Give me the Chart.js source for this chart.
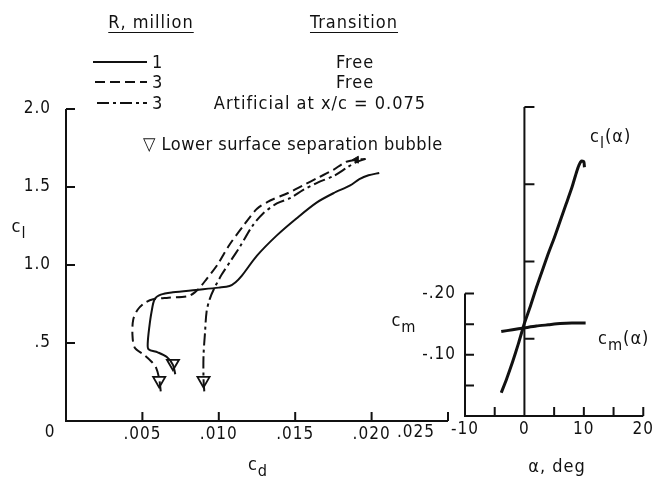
<!DOCTYPE html>
<html>
<head>
<meta charset="utf-8">
<script src="https://cdn.jsdelivr.net/npm/chart.js@4.4.1/dist/chart.umd.min.js"></script>
<style>
  body { margin: 0; background: #fff; }
  #wrap { position: relative; width: 657px; height: 478px; overflow: hidden;
          font-family: 'Liberation Sans Narrow', 'DejaVu Sans Condensed', 'Liberation Sans', sans-serif;
          font-size: 18px; letter-spacing: 1px; color: #111; }
  canvas { position: absolute; left: 0; top: 0; }
  .t { position: absolute; white-space: nowrap; line-height: 1; transform: translate(-50%, -50%); }
  .l { transform: translate(0, -50%); }
  .u { text-decoration: underline; text-underline-offset: 4px; text-decoration-thickness: 1px; }
  .s { font-size: 0.9em; position: relative; top: 0.35em; }
</style>
</head>
<body>
<div id="wrap">
  <canvas id="dragPolar" width="657" height="478"></canvas>
  <canvas id="liftCurve" width="657" height="478"></canvas>

  <svg width="657" height="478" style="position:absolute;left:0;top:0">
    <g stroke="#111" stroke-width="2">
      <line x1="93" y1="62" x2="147" y2="62"/>
      <line x1="95" y1="82" x2="147" y2="82" stroke-dasharray="10 5"/>
      <line x1="97" y1="103" x2="147" y2="103" stroke-dasharray="12 4 3 4"/>
    </g>
  </svg>

  <!-- 凡例 -->
  <div class="t u" style="left:151px;top:22px">R, million</div>
  <div class="t u" style="left:354px;top:22px">Transition</div>
  <div class="t l" style="left:152px;top:62px">1</div>
  <div class="t l" style="left:152px;top:82px">3</div>
  <div class="t l" style="left:152px;top:103px">3</div>
  <div class="t" style="left:355px;top:62px">Free</div>
  <div class="t" style="left:355px;top:82px">Free</div>
  <div class="t" style="left:320px;top:103px">Artificial at x/c = 0.075</div>
  <div class="t l" style="left:143px;top:144px;letter-spacing:0.5px">&#9661; Lower surface separation bubble</div>

  <!-- 軸タイトル -->
  <div class="t" style="left:19px;top:226px">c<span class="s">l</span></div>
  <div class="t" style="left:258px;top:464px">c<span class="s">d</span></div>
  <div class="t" style="left:404px;top:320px">c<span class="s">m</span></div>
  <div class="t" style="left:557px;top:466px">&alpha;, deg</div>
  <div class="t l" style="left:590px;top:136px">c<span class="s">l</span>(&alpha;)</div>
  <div class="t l" style="left:598px;top:338px">c<span class="s">m</span>(&alpha;)</div>
</div>

<script>
const ink = '#111';
Chart.defaults.font.family = "'Liberation Sans Narrow', 'DejaVu Sans Condensed', 'Liberation Sans', sans-serif";
Chart.defaults.font.size = 17;
Chart.defaults.color = ink;

// 目盛り
const cdTicks = [0, 0.005, 0.010, 0.015, 0.020, 0.025];
const cdLabels = ['', '.005', '.010', '.015', '.020', ''];
const clTicks = [0, 0.5, 1.0, 1.5, 2.0];
const clLabels = ['', '.5', '1.0', '1.5', '2.0'];
const alphaTicks = [-10, -5, 0, 5, 10, 15, 20];
const alphaLabels = ['-10', '', '0', '', '10', '', '20'];
const cmTicks = [0, -0.05, -0.10, -0.15, -0.20];
const cmLabels = ['', '', '-.10', '', '-.20'];

// R = 1 million, free transition
const cdR1 = [0.00715, 0.0070, 0.0066, 0.0060, 0.0054, 0.00535, 0.00545, 0.0056, 0.0058, 0.0062, 0.0070, 0.0085,
              0.0100, 0.0107, 0.0111, 0.0115, 0.0125, 0.0138, 0.0151, 0.0164, 0.0175, 0.0186, 0.0192, 0.0198, 0.0205];
const clR1 = [0.30, 0.36, 0.41, 0.44, 0.46, 0.50, 0.60, 0.70, 0.78, 0.81, 0.825, 0.84,
              0.855, 0.865, 0.89, 0.93, 1.06, 1.19, 1.30, 1.40, 1.46, 1.51, 1.55, 1.575, 1.59];

// R = 3 million, free transition
const cdR3 = [0.0062, 0.0061, 0.0059, 0.0056, 0.0051, 0.0045, 0.00435, 0.0044, 0.0047, 0.0052, 0.0057, 0.0067,
              0.0080, 0.0085, 0.0088, 0.0092, 0.0099, 0.0107, 0.0116, 0.0125, 0.0134, 0.0145, 0.0155, 0.0165,
              0.0175, 0.0183, 0.0190, 0.0196];
const clR3 = [0.19, 0.27, 0.34, 0.38, 0.425, 0.47, 0.55, 0.65, 0.715, 0.76, 0.78, 0.79,
              0.80, 0.83, 0.86, 0.91, 1.00, 1.13, 1.25, 1.36, 1.415, 1.46, 1.51, 1.56,
              1.61, 1.66, 1.675, 1.68];

// R = 3 million, artificial transition at x/c = 0.075
const cdR3a = [0.00905, 0.0090, 0.0090, 0.0091, 0.0092, 0.0094, 0.0097, 0.0102, 0.0108, 0.0114, 0.0122, 0.0129,
               0.0138, 0.0147, 0.0155, 0.0165, 0.0175, 0.0184, 0.0190, 0.0196];
const clR3a = [0.19, 0.27, 0.42, 0.57, 0.70, 0.78, 0.85, 0.94, 1.03, 1.12, 1.25, 1.33,
               1.395, 1.43, 1.48, 1.53, 1.57, 1.625, 1.66, 1.68];

// 下面はく離泡
const bubbleCd = [0.0070, 0.0061, 0.0090];
const bubbleCl = [0.37, 0.26, 0.26];

// cl(alpha), cm(alpha)
const alphaCl = [-3.9, -3.0, -2.0, -1.0, 0.0, 1.0, 2.0, 3.0, 4.0, 5.0, 6.0, 7.0, 8.0, 8.7, 9.2, 9.6, 10.0, 10.1];
const clAlpha = [0.15, 0.24, 0.35, 0.47, 0.60, 0.71, 0.83, 0.94, 1.05, 1.15, 1.26, 1.37, 1.48, 1.57, 1.625, 1.65, 1.645, 1.61];
const alphaCm = [-3.9, -2.0, 0.0, 2.0, 4.0, 6.0, 8.0, 10.3];
const cmAlpha = [-0.138, -0.141, -0.144, -0.147, -0.149, -0.151, -0.152, -0.152];

const pts = (xs, ys) => xs.map((v, i) => ({x: v, y: ys[i]}));
const setTicks = vals => s => { s.ticks = vals.map(v => ({value: v})); };

// 抗力極曲線の軸
const dragAxes = {
  id: 'dragAxes',
  afterDatasetsDraw(chart) {
    const {ctx} = chart;
    const {x, y} = chart.scales;
    const x0 = x.getPixelForValue(0), y0 = y.getPixelForValue(0);
    ctx.save();
    ctx.strokeStyle = ink;
    ctx.lineWidth = 2;
    ctx.beginPath();
    ctx.moveTo(x0, y.getPixelForValue(2.0));
    ctx.lineTo(x0, y0);
    ctx.lineTo(x.getPixelForValue(0.025), y0);
    cdTicks.slice(1).forEach(v => {
      const p = x.getPixelForValue(v);
      ctx.moveTo(p, y0); ctx.lineTo(p, y0 - 9);
    });
    clTicks.slice(1).forEach(v => {
      const p = y.getPixelForValue(v);
      ctx.moveTo(x0, p); ctx.lineTo(x0 + 9, p);
    });
    ctx.stroke();
    // 元の図では端の目盛り数字がずれている
    ctx.fillStyle = ink;
    ctx.font = "17px 'Liberation Sans Narrow', 'DejaVu Sans Condensed', sans-serif";
    ctx.textAlign = 'center';
    ctx.textBaseline = 'middle';
    ctx.fillText('0', x0 - 16, y0 + 12);
    ctx.fillText('.025', x.getPixelForValue(0.025) - 32, y0 + 12);
    ctx.restore();
  }
};

// 揚力・モーメント曲線の軸
const liftAxes = {
  id: 'liftAxes',
  afterDatasetsDraw(chart) {
    const {ctx} = chart;
    const {x, cl, cm} = chart.scales;
    const xL = x.getPixelForValue(-10), xZ = x.getPixelForValue(0);
    const yB = cl.getPixelForValue(0);
    ctx.save();
    ctx.strokeStyle = ink;
    ctx.lineWidth = 2;
    ctx.beginPath();
    ctx.moveTo(xL, cm.getPixelForValue(-0.20));
    ctx.lineTo(xL, yB);
    ctx.lineTo(x.getPixelForValue(20), yB);
    cmTicks.slice(1).forEach(v => {
      const p = cm.getPixelForValue(v);
      ctx.moveTo(xL, p); ctx.lineTo(xL + 9, p);
    });
    alphaTicks.slice(1).forEach(v => {
      const p = x.getPixelForValue(v);
      ctx.moveTo(p, yB); ctx.lineTo(p, yB - 9);
    });
    ctx.moveTo(xZ, yB);
    ctx.lineTo(xZ, cl.getPixelForValue(2.0));
    clTicks.slice(1).forEach(v => {
      const p = cl.getPixelForValue(v);
      ctx.moveTo(xZ, p); ctx.lineTo(xZ + 10, p);
    });
    ctx.stroke();
    ctx.restore();
  }
};

const curve = (xs, ys, dash) => ({
  data: pts(xs, ys),
  borderColor: ink,
  borderWidth: 2,
  borderDash: dash,
  pointRadius: 0,
  tension: 0.3,
  fill: false
});

// R = 3 の曲線の上端にある矢印
const arrowTip = {
  pointStyle: 'triangle',
  rotation: -90,
  pointRadius: c => (c.dataIndex === cdR3.length - 2 ? 4 : 0),
  pointBackgroundColor: ink,
  pointBorderColor: ink,
  pointBorderWidth: 1
};

const dragChart = new Chart(document.getElementById('dragPolar'), {
  type: 'line',
  data: {
    datasets: [
      curve(cdR1, clR1, []),
      {...curve(cdR3, clR3, [10, 5]), ...arrowTip},
      curve(cdR3a, clR3a, [12, 4, 3, 4]),
      {
        data: pts(bubbleCd, bubbleCl),
        showLine: false,
        pointStyle: 'triangle',
        rotation: 180,
        pointRadius: 7,
        pointBackgroundColor: 'rgba(0,0,0,0)',
        pointBorderColor: ink,
        pointBorderWidth: 1.8
      }
    ]
  },
  options: {
    responsive: false,
    animation: false,
    layout: {padding: {left: 0, top: 109, right: 209, bottom: 0}},
    plugins: {legend: {display: false}, tooltip: {enabled: false}},
    scales: {
      x: {
        type: 'linear', min: 0, max: 0.025,
        grid: {display: false, drawTicks: false}, border: {display: false},
        afterBuildTicks: setTicks(cdTicks),
        afterFit: s => { s.height = 57; },
        ticks: {padding: 3, maxRotation: 0, autoSkip: false, callback: (v, i) => cdLabels[i]}
      },
      y: {
        type: 'linear', min: 0, max: 2.0,
        grid: {display: false, drawTicks: false}, border: {display: false},
        afterBuildTicks: setTicks(clTicks),
        afterFit: s => { s.width = 66; },
        ticks: {padding: 15, autoSkip: false, callback: (v, i) => clLabels[i]}
      }
    }
  },
  plugins: [dragAxes]
});

const liftChart = new Chart(document.getElementById('liftCurve'), {
  type: 'line',
  data: {
    datasets: [
      {...curve(alphaCl, clAlpha, []), borderWidth: 3, tension: 0.2, yAxisID: 'cl'},
      {...curve(alphaCm, cmAlpha, []), borderWidth: 3, tension: 0.2, yAxisID: 'cm'}
    ]
  },
  options: {
    responsive: false,
    animation: false,
    layout: {padding: {left: 0, top: 107, right: 10, bottom: 0}},
    plugins: {legend: {display: false}, tooltip: {enabled: false}},
    scales: {
      x: {
        type: 'linear', min: -10, max: 20,
        grid: {display: false, drawTicks: false}, border: {display: false},
        afterBuildTicks: setTicks(alphaTicks),
        afterFit: s => { s.height = 62; },
        ticks: {padding: 3, maxRotation: 0, autoSkip: false, callback: (v, i) => alphaLabels[i]}
      },
      cm: {
        axis: 'y', type: 'linear', position: 'left', reverse: true, min: -0.505, max: 0,
        grid: {display: false, drawTicks: false}, border: {display: false},
        afterBuildTicks: setTicks(cmTicks),
        afterFit: s => { s.width = 465; },
        ticks: {padding: 9, autoSkip: false, callback: (v, i) => cmLabels[i]}
      },
      cl: {
        axis: 'y', type: 'linear', display: false, min: 0, max: 2.0
      }
    }
  },
  plugins: [liftAxes]
});
</script>
</body>
</html>
